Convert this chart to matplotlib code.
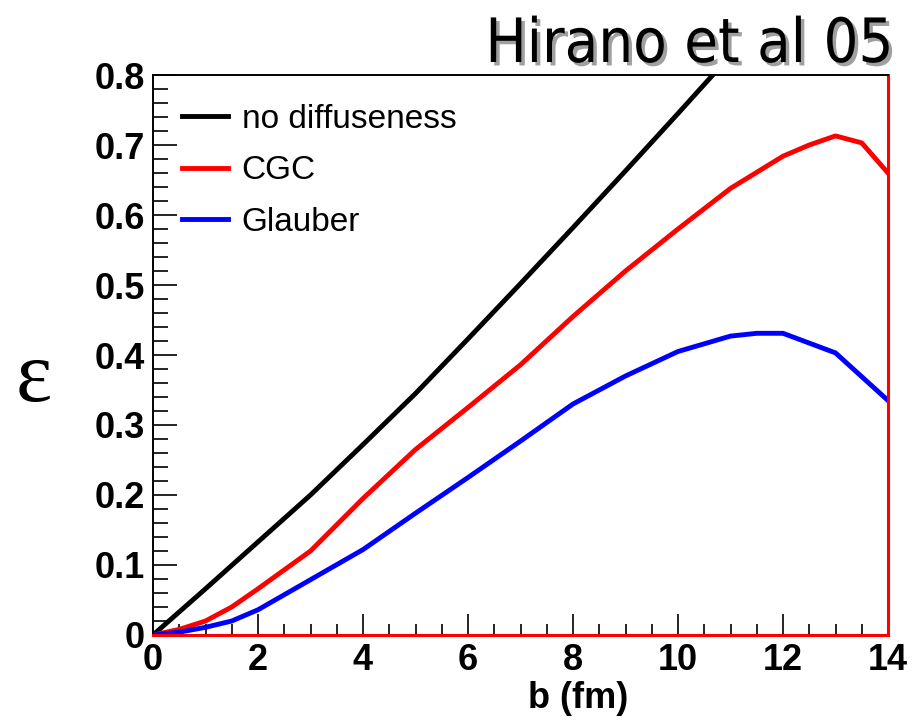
import matplotlib.pyplot as plt
import matplotlib.patheffects as pe
from matplotlib.ticker import MultipleLocator

# impact parameter b (fm) and eccentricity for each initial condition
b_black = [0, 1, 2, 3, 4, 5, 6, 7, 8, 9, 10, 11]
eps_black = [0, 0.066, 0.133, 0.200, 0.272, 0.345, 0.423, 0.502, 0.582, 0.663, 0.745, 0.828]

b_cgc = [0, 0.5, 1, 1.5, 2, 3, 4, 5, 6, 7, 8, 9, 10, 11, 12, 12.5, 13, 13.5, 14]
eps_cgc = [0, 0.008, 0.02, 0.04, 0.066, 0.12, 0.195, 0.265, 0.325, 0.386, 0.455, 0.52,
           0.58, 0.638, 0.684, 0.70, 0.713, 0.703, 0.66]

b_glauber = [0, 0.5, 1, 1.5, 2, 3, 4, 5, 6, 7, 8, 9, 10, 11, 11.5, 12, 13, 14]
eps_glauber = [0, 0.004, 0.011, 0.02, 0.036, 0.079, 0.122, 0.174, 0.225, 0.277, 0.33,
               0.37, 0.405, 0.427, 0.431, 0.431, 0.403, 0.335]

labels = ['no diffuseness', 'CGC', 'Glauber']
yticks = [0, 0.1, 0.2, 0.3, 0.4, 0.5, 0.6, 0.7, 0.8]
yticklabels = ['0', '0.1', '0.2', '0.3', '0.4', '0.5', '0.6', '0.7', '0.8']

fig = plt.figure(figsize=(9.24, 7.27), dpi=100)
ax = fig.add_axes([153/924, 92/727, 735/924, 560/727])

ax.plot(b_black, eps_black, color='black', lw=3.5, label=labels[0])
ax.plot(b_cgc, eps_cgc, color='red', lw=3.5, label=labels[1])
ax.plot(b_glauber, eps_glauber, color='blue', lw=3.5, label=labels[2])

ax.set_xlim(0, 14)
ax.set_ylim(0, 0.8)
ax.xaxis.set_major_locator(MultipleLocator(2))
ax.xaxis.set_minor_locator(MultipleLocator(0.5))
ax.set_yticks(yticks)
ax.set_yticklabels(yticklabels)
ax.yaxis.set_minor_locator(MultipleLocator(0.02))

ax.tick_params(which='major', direction='in', width=1.2, length=15, pad=6,
               labelsize=26)
ax.tick_params(which='minor', direction='in', width=1.2, length=8)
ax.tick_params(axis='y', which='major', length=17, pad=6)
ax.tick_params(axis='y', which='minor', length=11)
for lab in ax.get_xticklabels() + ax.get_yticklabels():
    lab.set_fontfamily('Liberation Sans')
    lab.set_fontweight('bold')

for side in ['left', 'top']:
    ax.spines[side].set_linewidth(1.4)
    ax.spines[side].set_color('black')
for side in ['bottom', 'right']:
    ax.spines[side].set_linewidth(2.2)
    ax.spines[side].set_color('red')

ax.set_xlabel('b (fm)', fontsize=26, fontweight='bold', family='Liberation Sans')
ax.xaxis.set_label_coords(0.578, -0.082)

fig.text(34/924, 1 - 380/727, 'ε', fontsize=62, family='Liberation Serif',
         ha='center', va='center')

# title with drop shadow
fig.text(893/924, 1 - 62/727, 'Hirano et al 05', fontsize=44,
         family='DejaVu Sans', fontstretch='condensed', ha='right', va='baseline',
         color='black',
         path_effects=[pe.withSimplePatchShadow(offset=(2.5, -2.5),
                                                shadow_rgbFace='#888888', alpha=0.8)])

ax.legend(loc='upper left', bbox_to_anchor=(0.039, 0.949), frameon=False,
          borderpad=0, borderaxespad=0,
          prop={'family': 'Liberation Sans', 'size': 24},
          handlelength=1.4, handletextpad=0.4, labelspacing=0.62)

fig.savefig('out.png', dpi=100)
